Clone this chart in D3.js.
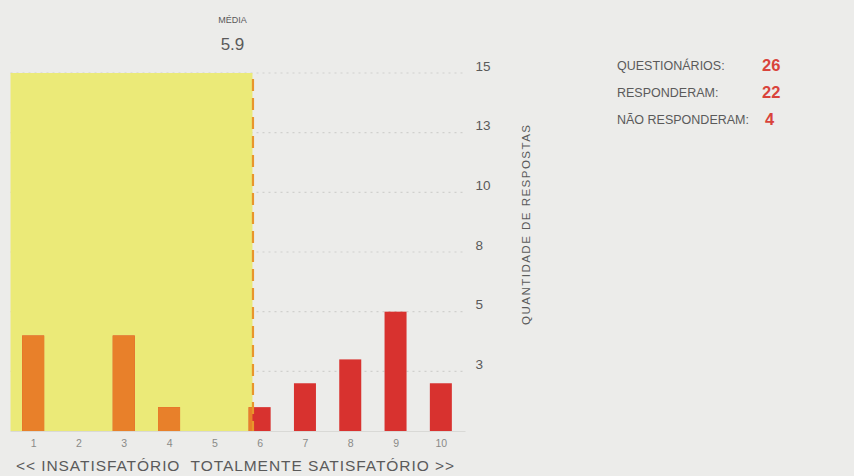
<!DOCTYPE html>
<html>
<head>
<meta charset="utf-8">
<script src="https://cdn.jsdelivr.net/npm/d3@7"></script>
<style>
  html, body { margin: 0; padding: 0; background: #ececea; }
  svg { display: block; font-family: "Liberation Sans", Arial, sans-serif; }
</style>
</head>
<body>
<svg id="chart" width="854" height="476"></svg>
<script>
// Notas de satisfação (1 a 10) e quantidade de respostas por nota
const scores = [1, 2, 3, 4, 5, 6, 7, 8, 9, 10];
const counts = [4, 0, 4, 1, 0, 1, 2, 3, 5, 2];

// Marcas do eixo de quantidade e os rótulos arredondados exibidos
const yTicks = [2.5, 5, 7.5, 10, 12.5, 15];
const yTickLabels = ["3", "5", "8", "10", "13", "15"];

// Resumo dos questionários
const summaryLabels = ["QUESTIONÁRIOS:", "RESPONDERAM:", "NÃO RESPONDERAM:"];
const summaryValues = [26, 22, 4];

const total = d3.sum(counts);
const mean = d3.sum(scores, (s, i) => s * counts[i]) / total;

const svg = d3.select("#chart");
const grey = "#5a5a5a";
const red = "#d8322f";
const orange = "#e8802a";
const yellow = "#ebea78";

const x = d3.scaleLinear().domain([0.5, 10.5]).range([10.5, 463.5]);
const y = d3.scaleLinear().domain([0, 15]).range([431, 73]);
const barW = 22;

// Linhas de grade pontilhadas
svg.append("g")
  .selectAll("line")
  .data(yTicks)
  .join("line")
  .attr("x1", x(0.5))
  .attr("x2", x(10.5) + 2)
  .attr("y1", d => y(d))
  .attr("y2", d => y(d))
  .attr("stroke", "#d0d0cd")
  .attr("stroke-width", 1.2)
  .attr("stroke-dasharray", "2,4");

// Faixa amarela até a média
svg.append("rect")
  .attr("x", x(0.5))
  .attr("y", y(15))
  .attr("width", x(mean) - x(0.5) - 1)
  .attr("height", y(0) - y(15))
  .attr("fill", yellow);

svg.append("clipPath").attr("id", "faixa")
  .append("rect")
  .attr("x", x(0.5))
  .attr("y", y(15))
  .attr("width", x(mean) - x(0.5) - 1)
  .attr("height", y(0) - y(15) + 2);

// Linha de base
svg.append("line")
  .attr("x1", x(0.5)).attr("x2", x(10.5) + 2)
  .attr("y1", y(0) + 0.5).attr("y2", y(0) + 0.5)
  .attr("stroke", "#d9d9d6").attr("stroke-width", 1);

// Barras vermelhas
svg.append("g")
  .selectAll("rect")
  .data(scores)
  .join("rect")
  .attr("x", (d) => x(d) - barW / 2)
  .attr("y", (d, i) => y(counts[i]))
  .attr("width", barW)
  .attr("height", (d, i) => y(0) - y(counts[i]))
  .attr("fill", red);

// Barras dentro da faixa ficam laranja
svg.append("g")
  .attr("clip-path", "url(#faixa)")
  .selectAll("rect")
  .data(scores)
  .join("rect")
  .attr("x", (d) => x(d) - barW / 2)
  .attr("y", (d, i) => y(counts[i]))
  .attr("width", barW)
  .attr("height", (d, i) => y(0) - y(counts[i]))
  .attr("fill", orange);

// Linha tracejada da média
svg.append("line")
  .attr("x1", x(mean) - 0.5).attr("x2", x(mean) - 0.5)
  .attr("y1", y(15) + 6).attr("y2", y(0))
  .attr("stroke", "#e8962c")
  .attr("stroke-width", 2.2)
  .attr("stroke-dasharray", "12,7");

// Rótulo da média
svg.append("text")
  .attr("x", x(mean) - 21).attr("y", 23)
  .attr("text-anchor", "middle")
  .attr("font-size", 9)
  .attr("fill", grey)
  .text("MÉDIA");
svg.append("text")
  .attr("x", x(mean) - 21).attr("y", 50)
  .attr("text-anchor", "middle")
  .attr("font-size", 17)
  .attr("fill", grey)
  .text(d3.format(".1f")(mean));

// Eixo x: notas
const xAxis = svg.append("g")
  .attr("transform", `translate(0,${y(0) + 6})`)
  .call(d3.axisBottom(x).tickValues(scores).tickSize(0).tickFormat(d3.format("d")));
xAxis.select(".domain").remove();
xAxis.selectAll("text")
  .attr("font-size", 10.5)
  .attr("font-family", "Liberation Sans, Arial, sans-serif")
  .attr("fill", "#8a8a88");

svg.append("text")
  .attr("x", 16).attr("y", 471)
  .attr("font-size", 15.5)
  .attr("fill", grey)
  .attr("xml:space", "preserve")
  .attr("textLength", 438)
  .attr("lengthAdjust", "spacing")
  .text("<< INSATISFATÓRIO  TOTALMENTE SATISFATÓRIO >>");

// Eixo y à direita
const yAxis = svg.append("g")
  .attr("transform", `translate(${x(10.5) + 9},0)`)
  .call(d3.axisRight(y).tickValues(yTicks).tickSize(0)
    .tickFormat((d, i) => yTickLabels[i]));
yAxis.select(".domain").remove();
yAxis.selectAll("text")
  .attr("font-size", 13.5)
  .attr("font-family", "Liberation Sans, Arial, sans-serif")
  .attr("fill", grey)
  .attr("dy", "-0.2em");

svg.append("text")
  .attr("transform", "translate(530,225) rotate(-90)")
  .attr("text-anchor", "middle")
  .attr("font-size", 11.5)
  .attr("fill", grey)
  .attr("textLength", 200)
  .attr("lengthAdjust", "spacing")
  .text("QUANTIDADE DE RESPOSTAS");

// Resumo à direita
const summary = svg.append("g");
summaryLabels.forEach((lab, i) => {
  const yy = 70 + i * 27;
  summary.append("text")
    .attr("x", 617).attr("y", yy)
    .attr("font-size", 12.5)
    .attr("fill", grey)
    .text(lab);
  summary.append("text")
    .attr("x", i === 2 ? 765 : 762).attr("y", yy + 1)
    .attr("font-size", 16.5)
    .attr("font-weight", "bold")
    .attr("fill", "#d9433b")
    .text(summaryValues[i]);
});
</script>
</body>
</html>
